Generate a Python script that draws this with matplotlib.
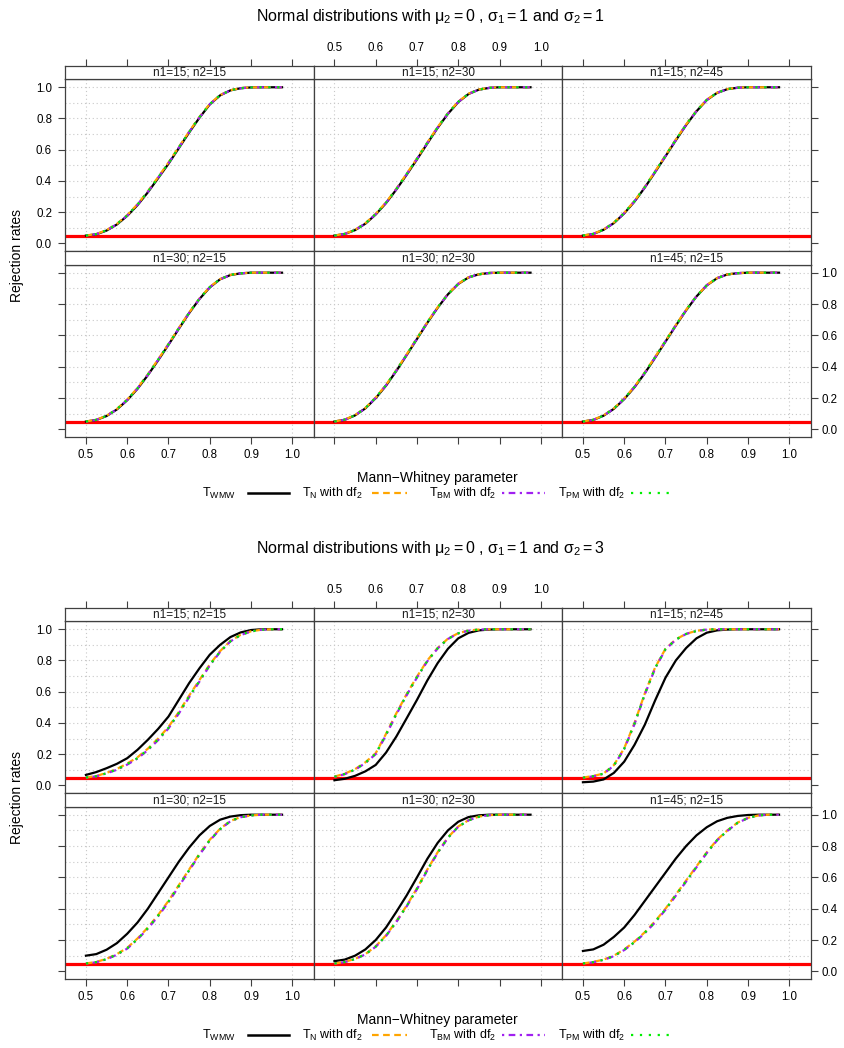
import matplotlib
matplotlib.use("Agg")
import matplotlib.pyplot as plt

plt.rcParams['font.family'] = ['Liberation Sans', 'DejaVu Sans']
plt.rcParams['mathtext.fontset'] = 'custom'
plt.rcParams['mathtext.rm'] = 'Liberation Sans'
plt.rcParams['mathtext.it'] = 'Liberation Sans'
plt.rcParams['mathtext.bf'] = 'Liberation Sans:bold'

# ---------------- data ----------------
x_vals = [0.5, 0.525, 0.55, 0.575, 0.6, 0.625, 0.65, 0.675, 0.7, 0.725,
          0.75, 0.775, 0.8, 0.825, 0.85, 0.875, 0.9, 0.925, 0.95, 0.975]
panel_labels = ["n1=15; n2=15", "n1=15; n2=30", "n1=15; n2=45",
                "n1=30; n2=15", "n1=30; n2=30", "n1=45; n2=15"]
x_ticks = [0.5, 0.6, 0.7, 0.8, 0.9, 1.0]
x_ticklabels = ["0.5", "0.6", "0.7", "0.8", "0.9", "1.0"]
y_ticks = [0.0, 0.2, 0.4, 0.6, 0.8, 1.0]
y_ticklabels = ["0.0", "0.2", "0.4", "0.6", "0.8", "1.0"]
nominal_level = 0.05
series_names = [r"T$_{\mathrm{WMW}}$", r"T$_{\mathrm{N}}$ with df$_{2}$",
                r"T$_{\mathrm{BM}}$ with df$_{2}$", r"T$_{\mathrm{PM}}$ with df$_{2}$"]

# chart 1: sigma2 = 1
top_wmw = [
    [0.050,0.058,0.082,0.121,0.176,0.245,0.327,0.418,0.510,0.610,0.710,0.805,0.890,0.948,0.980,0.994,0.999,1.000,1.000,1.000],
    [0.050,0.060,0.085,0.126,0.185,0.258,0.345,0.440,0.538,0.640,0.740,0.830,0.905,0.957,0.985,0.996,1.000,1.000,1.000,1.000],
    [0.050,0.060,0.087,0.130,0.192,0.268,0.358,0.457,0.558,0.660,0.758,0.846,0.918,0.964,0.988,0.997,1.000,1.000,1.000,1.000],
    [0.050,0.060,0.085,0.127,0.186,0.259,0.346,0.441,0.540,0.642,0.742,0.832,0.906,0.958,0.985,0.996,1.000,1.000,1.000,1.000],
    [0.050,0.061,0.089,0.134,0.199,0.279,0.373,0.474,0.577,0.680,0.776,0.862,0.928,0.970,0.990,0.998,1.000,1.000,1.000,1.000],
    [0.050,0.060,0.087,0.131,0.193,0.269,0.359,0.458,0.560,0.662,0.760,0.848,0.919,0.965,0.989,0.997,1.000,1.000,1.000,1.000],
]
top_n = [
    [0.050,0.060,0.085,0.125,0.181,0.251,0.334,0.425,0.518,0.617,0.716,0.810,0.893,0.950,0.981,0.995,0.999,1.000,1.000,1.000],
    [0.050,0.061,0.087,0.129,0.189,0.263,0.350,0.446,0.544,0.646,0.745,0.834,0.908,0.959,0.986,0.996,1.000,1.000,1.000,1.000],
    [0.050,0.061,0.089,0.133,0.196,0.272,0.363,0.462,0.563,0.665,0.762,0.849,0.920,0.965,0.989,0.997,1.000,1.000,1.000,1.000],
    [0.050,0.061,0.087,0.130,0.190,0.264,0.351,0.447,0.545,0.647,0.746,0.835,0.909,0.959,0.986,0.996,1.000,1.000,1.000,1.000],
    [0.050,0.062,0.091,0.137,0.203,0.284,0.378,0.479,0.582,0.684,0.779,0.864,0.930,0.971,0.990,0.998,1.000,1.000,1.000,1.000],
    [0.050,0.061,0.089,0.134,0.197,0.273,0.364,0.463,0.565,0.666,0.763,0.850,0.921,0.966,0.989,0.997,1.000,1.000,1.000,1.000],
]
top_bm = [
    [0.050,0.059,0.083,0.123,0.178,0.248,0.330,0.421,0.514,0.613,0.713,0.807,0.891,0.949,0.980,0.994,0.999,1.000,1.000,1.000],
    [0.050,0.060,0.086,0.127,0.187,0.260,0.347,0.443,0.541,0.643,0.742,0.832,0.906,0.958,0.985,0.996,1.000,1.000,1.000,1.000],
    [0.050,0.060,0.088,0.131,0.194,0.270,0.360,0.459,0.560,0.662,0.760,0.847,0.919,0.964,0.988,0.997,1.000,1.000,1.000,1.000],
    [0.050,0.060,0.086,0.128,0.188,0.261,0.348,0.444,0.542,0.644,0.743,0.833,0.907,0.958,0.985,0.996,1.000,1.000,1.000,1.000],
    [0.050,0.061,0.090,0.135,0.201,0.281,0.375,0.476,0.579,0.682,0.777,0.863,0.929,0.970,0.990,0.998,1.000,1.000,1.000,1.000],
    [0.050,0.060,0.088,0.132,0.195,0.271,0.361,0.460,0.562,0.664,0.761,0.849,0.920,0.965,0.989,0.997,1.000,1.000,1.000,1.000],
]
top_pm = [
    [0.050,0.059,0.084,0.124,0.179,0.249,0.331,0.422,0.515,0.614,0.714,0.808,0.892,0.949,0.981,0.994,0.999,1.000,1.000,1.000],
    [0.050,0.061,0.086,0.128,0.188,0.261,0.348,0.444,0.542,0.644,0.743,0.833,0.907,0.958,0.985,0.996,1.000,1.000,1.000,1.000],
    [0.050,0.061,0.088,0.132,0.195,0.271,0.361,0.460,0.561,0.663,0.761,0.848,0.919,0.965,0.988,0.997,1.000,1.000,1.000,1.000],
    [0.050,0.061,0.086,0.129,0.189,0.262,0.349,0.445,0.543,0.645,0.744,0.834,0.908,0.959,0.986,0.996,1.000,1.000,1.000,1.000],
    [0.050,0.062,0.090,0.136,0.202,0.282,0.376,0.477,0.580,0.683,0.778,0.863,0.929,0.971,0.990,0.998,1.000,1.000,1.000,1.000],
    [0.050,0.061,0.088,0.133,0.196,0.272,0.362,0.461,0.563,0.665,0.762,0.849,0.920,0.965,0.989,0.997,1.000,1.000,1.000,1.000],
]

# chart 2: sigma2 = 3
bot_wmw = [
    [0.067,0.085,0.110,0.138,0.174,0.228,0.292,0.362,0.441,0.548,0.655,0.750,0.837,0.900,0.950,0.980,0.995,1.000,1.000,1.000],
    [0.033,0.042,0.061,0.090,0.131,0.210,0.313,0.430,0.548,0.672,0.783,0.875,0.942,0.977,0.993,0.998,1.000,1.000,1.000,1.000],
    [0.020,0.024,0.038,0.080,0.152,0.260,0.389,0.545,0.690,0.800,0.880,0.942,0.978,0.993,0.998,1.000,1.000,1.000,1.000,1.000],
    [0.100,0.110,0.138,0.180,0.240,0.312,0.400,0.500,0.600,0.700,0.790,0.868,0.928,0.968,0.988,0.997,1.000,1.000,1.000,1.000],
    [0.065,0.075,0.100,0.140,0.200,0.280,0.380,0.485,0.600,0.718,0.820,0.900,0.955,0.985,0.996,1.000,1.000,1.000,1.000,1.000],
    [0.130,0.140,0.170,0.220,0.280,0.360,0.450,0.540,0.630,0.720,0.800,0.868,0.920,0.958,0.980,0.992,0.998,1.000,1.000,1.000],
]
bot_n = [
    [0.050,0.060,0.080,0.105,0.140,0.180,0.235,0.300,0.375,0.470,0.575,0.675,0.775,0.860,0.925,0.965,0.987,0.997,1.000,1.000],
    [0.056,0.075,0.104,0.148,0.206,0.330,0.462,0.585,0.697,0.800,0.880,0.940,0.975,0.992,0.998,1.000,1.000,1.000,1.000,1.000],
    [0.050,0.060,0.076,0.130,0.238,0.400,0.590,0.756,0.875,0.935,0.971,0.990,0.998,1.000,1.000,1.000,1.000,1.000,1.000,1.000],
    [0.050,0.060,0.080,0.110,0.150,0.210,0.280,0.360,0.450,0.550,0.650,0.750,0.840,0.910,0.960,0.985,0.995,1.000,1.000,1.000],
    [0.050,0.060,0.080,0.110,0.160,0.230,0.320,0.420,0.530,0.650,0.760,0.855,0.925,0.965,0.988,0.997,1.000,1.000,1.000,1.000],
    [0.050,0.060,0.075,0.100,0.140,0.190,0.250,0.320,0.400,0.490,0.580,0.670,0.760,0.840,0.900,0.950,0.980,0.995,1.000,1.000],
]
bot_bm = [
    [0.050,0.058,0.077,0.100,0.133,0.172,0.226,0.290,0.365,0.460,0.565,0.665,0.768,0.855,0.922,0.963,0.986,0.997,1.000,1.000],
    [0.054,0.072,0.100,0.143,0.200,0.322,0.455,0.578,0.691,0.795,0.877,0.938,0.974,0.991,0.998,1.000,1.000,1.000,1.000,1.000],
    [0.048,0.058,0.074,0.127,0.233,0.393,0.583,0.750,0.871,0.933,0.970,0.989,0.998,1.000,1.000,1.000,1.000,1.000,1.000,1.000],
    [0.050,0.058,0.077,0.106,0.145,0.204,0.273,0.352,0.442,0.542,0.643,0.744,0.835,0.907,0.958,0.984,0.995,1.000,1.000,1.000],
    [0.050,0.059,0.078,0.108,0.157,0.226,0.315,0.415,0.525,0.645,0.756,0.852,0.923,0.964,0.987,0.997,1.000,1.000,1.000,1.000],
    [0.050,0.058,0.073,0.097,0.136,0.185,0.244,0.313,0.393,0.483,0.573,0.664,0.755,0.836,0.897,0.948,0.979,0.995,1.000,1.000],
]
bot_pm = [
    [0.050,0.059,0.078,0.102,0.136,0.175,0.230,0.294,0.369,0.464,0.569,0.669,0.771,0.857,0.923,0.964,0.986,0.997,1.000,1.000],
    [0.055,0.073,0.102,0.145,0.203,0.326,0.458,0.581,0.694,0.797,0.878,0.939,0.974,0.991,0.998,1.000,1.000,1.000,1.000,1.000],
    [0.049,0.059,0.075,0.128,0.235,0.396,0.586,0.753,0.873,0.934,0.970,0.989,0.998,1.000,1.000,1.000,1.000,1.000,1.000,1.000],
    [0.050,0.059,0.078,0.108,0.147,0.207,0.276,0.356,0.446,0.546,0.646,0.747,0.837,0.908,0.959,0.984,0.995,1.000,1.000,1.000],
    [0.050,0.059,0.079,0.109,0.158,0.228,0.317,0.417,0.527,0.647,0.758,0.853,0.924,0.964,0.987,0.997,1.000,1.000,1.000,1.000],
    [0.050,0.059,0.074,0.098,0.138,0.187,0.247,0.316,0.396,0.486,0.576,0.667,0.757,0.838,0.898,0.949,0.979,0.995,1.000,1.000],
]

# ---------------- styles / layout ----------------
W, H = 844, 1048
fig = plt.figure(figsize=(W / 100, H / 100), dpi=100)
FRAME = '#404040'
COLORS = ['black', '#FFA500', '#A020F0', '#00EE00']
STYLES = ['-', (0, (3, 2)), (0, (1, 2, 3, 2)), (0, (1, 3))]
XLIM = (0.450, 1.052)
YLIM = (-0.047, 1.051)
cols = [65.3, 313.8, 562.3, 810.8]


def rect(x0, y0, x1, y1):
    return [x0 / W, 1 - y1 / H, (x1 - x0) / W, (y1 - y0) / H]


ov = fig.add_axes([0, 0, 1, 1])
ov.set_xlim(0, W)
ov.set_ylim(H, 0)
ov.axis('off')


def draw_chart(o, title_y, title, series):
    rows = [(65.7, 79.3, 250.7), (250.7, 264.7, 436.7)]
    for r in range(2):
        s0, p0, p1 = rows[r]
        for c in range(3):
            k = r * 3 + c
            ax = fig.add_axes(rect(cols[c], p0 + o, cols[c + 1], p1 + o))
            ax.set_xlim(*XLIM)
            ax.set_ylim(*YLIM)
            for yv in [0.1, 0.2, 0.3, 0.4, 0.5, 0.6, 0.7, 0.8, 0.9, 1.0]:
                ax.axhline(yv, color='#c8c8c8', lw=0.8, ls=(0, (1, 2.5)), zorder=1)
            for xv in [0.5, 1.0]:
                ax.axvline(xv, color='#c8c8c8', lw=0.8, ls=(0, (1, 2.5)), zorder=1)
            ax.axhline(nominal_level, color='#FF0000', lw=2.3, zorder=2)
            for j, data in enumerate(series):
                ax.plot(x_vals, data[k], color=COLORS[j], ls=STYLES[j],
                        lw=1.6, zorder=3 + j)
            ax.set_xticks(x_ticks)
            ax.set_xticklabels(x_ticklabels)
            ax.set_yticks(y_ticks)
            ax.set_yticklabels(y_ticklabels)
            ax.tick_params(which='both', direction='out', length=5, width=0.8,
                           color=FRAME, labelsize=8.3, labelcolor='black')
            ax.tick_params(axis='x', pad=4.2)
            ax.tick_params(axis='y', pad=4.5)
            ax.tick_params(bottom=(r == 1), top=False, left=(c == 0), right=(c == 2),
                           labelbottom=(r == 1 and c != 1), labeltop=False,
                           labelleft=(r == 0 and c == 0),
                           labelright=(r == 1 and c == 2))
            if c == 2:
                ax.tick_params(axis='y', which='both', labelright=(r == 1), pad=2.5)
            for sp in ax.spines.values():
                sp.set_color(FRAME)
                sp.set_linewidth(0.9)
            # strip
            sx = fig.add_axes(rect(cols[c], s0 + o, cols[c + 1], p0 + o))
            sx.set_xlim(*XLIM)
            sx.set_ylim(0, 1)
            sx.set_yticks([])
            sx.set_facecolor('white')
            for sp in sx.spines.values():
                sp.set_color(FRAME)
                sp.set_linewidth(0.9)
            sx.text(0.5, 0.47, panel_labels[k], transform=sx.transAxes,
                    ha='center', va='center', fontsize=8.5, color='#1a1a1a')
            if r == 0:
                sx.set_xticks(x_ticks)
                sx.set_xticklabels(x_ticklabels)
                sx.tick_params(axis='x', direction='out', length=5, width=0.8,
                               color=FRAME, labelsize=8.3, pad=3.5,
                               top=True, bottom=False, labeltop=(c == 1),
                               labelbottom=False)
            else:
                sx.set_xticks([])
    # texts
    ov.text(430, title_y, title, ha='center', va='center', fontsize=11.5)
    ov.text(17.5, 256 + o, 'Rejection rates', rotation=90, ha='center',
            va='center', fontsize=10)
    ov.text(437, 478.3 + o, 'Mann\u2212Whitney parameter', ha='center',
            va='center', fontsize=10)
    ly = 493.3 + o
    text_x = [202, 302, 429, 558]
    line_x = [(248, 289), (372, 407), (502, 545), (631, 672)]
    for j in range(4):
        ov.text(text_x[j], ly, series_names[j], ha='left', va='center',
                fontsize=9)
        ov.plot(list(line_x[j]), [ly, ly], color=COLORS[j], ls=STYLES[j],
                lw=1.8 if j == 0 else 1.6)


draw_chart(0, 17,
           r"Normal distributions with $\mu_2 = 0$ , $\sigma_1 = 1$ and $\sigma_2 = 1$",
           [top_wmw, top_n, top_bm, top_pm])
draw_chart(542, 549,
           r"Normal distributions with $\mu_2 = 0$ , $\sigma_1 = 1$ and $\sigma_2 = 3$",
           [bot_wmw, bot_n, bot_bm, bot_pm])

fig.savefig('out.png', dpi=100)
